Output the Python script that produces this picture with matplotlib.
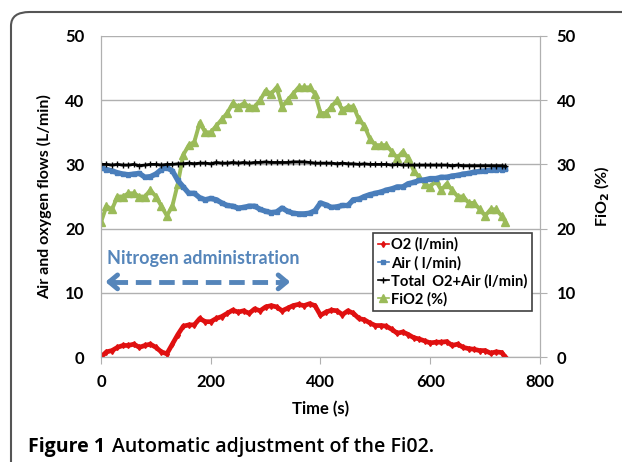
import matplotlib.pyplot as plt
import numpy as np
from matplotlib.patches import FancyBboxPatch

# time axis (s), one reading every 10 s, last point at 737 s
t = [0, 10, 20, 30, 40, 50, 60, 70, 80, 90, 100, 110, 120, 130, 140, 150, 160, 170, 180, 190,
     200, 210, 220, 230, 240, 250, 260, 270, 280, 290, 300, 310, 320, 330, 340, 350, 360, 370, 380, 390,
     400, 410, 420, 430, 440, 450, 460, 470, 480, 490, 500, 510, 520, 530, 540, 550, 560, 570, 580, 590,
     600, 610, 620, 630, 640, 650, 660, 670, 680, 690, 700, 710, 720, 730, 737]

o2 = [0.0, 0.8, 1.0, 1.5, 1.8, 1.8, 2.0, 1.5, 1.8, 2.0, 1.5, 0.8, 0.5, 2.0, 3.5, 4.8, 5.0, 5.0, 6.0, 5.5,
      5.5, 6.0, 6.3, 6.8, 7.3, 7.0, 7.2, 6.8, 7.5, 7.2, 7.8, 8.0, 7.8, 7.2, 7.6, 8.0, 8.2, 8.0, 8.3, 8.0,
      6.5, 7.0, 7.3, 7.2, 6.6, 7.2, 6.8, 6.0, 5.8, 5.3, 4.9, 4.9, 4.8, 4.3, 3.7, 3.9, 3.5, 3.0, 2.8, 2.5,
      2.2, 2.3, 2.3, 2.4, 1.8, 2.0, 1.5, 1.3, 1.2, 1.0, 1.0, 0.6, 0.8, 0.7, 0.0]

air = [29.5, 29.2, 29.0, 28.7, 28.5, 28.4, 28.5, 28.6, 28.0, 28.1, 28.5, 29.2, 29.5, 29.0, 27.5, 26.5, 25.5, 25.5, 24.8, 24.5,
       24.7, 24.5, 24.0, 23.6, 23.5, 23.2, 23.3, 23.5, 23.5, 23.0, 22.7, 22.5, 22.6, 23.2, 22.7, 22.4, 22.3, 22.3, 22.4, 22.8,
       24.0, 23.7, 23.3, 23.4, 23.6, 23.6, 24.5, 24.6, 25.0, 25.3, 25.5, 25.7, 26.0, 26.2, 26.5, 26.5, 27.0, 27.2, 27.5, 27.6,
       27.8, 27.8, 28.0, 28.0, 28.2, 28.3, 28.5, 28.6, 28.8, 28.9, 29.0, 29.1, 29.2, 29.2, 29.3]

total = [30.0, 30.0, 29.9, 30.0, 29.9, 29.9, 30.0, 29.8, 29.9, 30.0, 30.0, 29.9, 30.0, 30.0, 30.1, 30.1, 30.2, 30.1, 30.2, 30.2,
         30.1, 30.3, 30.2, 30.2, 30.3, 30.2, 30.3, 30.2, 30.3, 30.3, 30.4, 30.3, 30.3, 30.3, 30.3, 30.4, 30.4, 30.4, 30.3, 30.2,
         30.2, 30.2, 30.2, 30.1, 30.2, 30.1, 30.1, 30.0, 30.1, 30.0, 30.0, 30.0, 30.0, 29.9, 30.0, 29.9, 29.9, 29.9, 29.9, 29.9,
         29.9, 29.9, 29.9, 29.9, 29.8, 29.9, 29.8, 29.8, 29.8, 29.8, 29.8, 29.8, 29.8, 29.8, 29.7]

fio2 = [21, 23.5, 23, 25, 25, 25.5, 25.5, 25, 25, 26, 25, 23.5, 22, 23.5, 27, 31.5, 33, 33.5, 36.5, 35,
        35, 36, 37, 38, 39.5, 39, 39.5, 39, 39, 40, 41.5, 41, 42, 39, 40, 41, 42, 42, 42, 41,
        38, 38, 39, 40, 38.5, 39, 39, 37, 36, 34, 33, 33, 33, 32, 31, 32, 31, 29, 28, 27,
        26.5, 27.5, 26, 27, 26, 25, 25, 24, 24, 23, 22, 23, 23, 22, 21]

yticks = [0, 10, 20, 30, 40, 50]
xticks = [0, 200, 400, 600, 800]

plt.rcParams['font.family'] = ['Lato', 'DejaVu Sans']

fig = plt.figure(figsize=(6.22, 4.62), dpi=100)
ax = fig.add_axes([101/622, 1-357/462, 439/622, 321/462])
ax2 = ax.twinx()

red = '#e01010'
blue = '#4a7ebb'
green = '#9bbb59'
arrow_blue = '#5585ba'

ax.plot(t, o2, color=red, lw=3.4, marker='d', ms=3, label='O2 (l/min)', zorder=4)
ax.plot(t, air, color=blue, lw=3.8, marker='s', ms=3.5, label='Air ( l/min)', zorder=3)
ax.plot(t, total, color='black', lw=2.0, marker='+', ms=4, label='Total  O2+Air (l/min)', zorder=5)
ax.plot(t, fio2, color=green, lw=2.8, marker='^', ms=5.5, label='FiO2 (%)', zorder=2)

ax.set_xlim(0, 800)
ax.set_ylim(0, 50)
ax2.set_ylim(0, 50)
ax.set_xticks(xticks)
ax.set_yticks(yticks)
ax2.set_yticks(yticks)
ax.grid(axis='y', color='#b0b0b0', lw=1)
ax.set_axisbelow(True)

for a in (ax, ax2):
    a.spines['top'].set_visible(False)
    for s in ('left', 'right', 'bottom'):
        a.spines[s].set_color('#b0b0b0')
ax.tick_params(axis='y', length=0, pad=12, labelsize=12)
ax.tick_params(axis='x', length=5, color='#b0b0b0', pad=7, labelsize=12)
ax2.tick_params(axis='y', length=5, color='#b0b0b0', pad=7, labelsize=12)
for lab in ax.get_xticklabels() + ax.get_yticklabels() + ax2.get_yticklabels():
    lab.set_fontweight('bold')

ax.set_xlabel('Time (s)', fontsize=12, fontweight='bold', labelpad=8)
ax.set_ylabel('Air and oxygen flows (L/min)', fontsize=11.5, fontweight='bold', labelpad=9)
ax2.set_ylabel('FiO$_\\mathbf{2}$ (%)', fontsize=11.5, fontweight='bold', labelpad=12)

leg = ax.legend(loc='upper left', bbox_to_anchor=(0.62, 0.386), fancybox=False,
                edgecolor='#404040', framealpha=1, handlelength=0.8, handletextpad=0.1,
                borderpad=0.3, labelspacing=0.25, borderaxespad=0,
                prop={'weight': 'bold', 'size': 10.6})
leg.get_frame().set_linewidth(1.2)
for h in leg.legend_handles:
    h.set_linewidth(1.2)
leg.set_zorder(10)

ax.text(11, 15.4, 'Nitrogen administration', color=arrow_blue, fontsize=13,
        fontweight='bold', va='center', ha='left')
ax.plot([20, 332], [11.7, 11.7], color=arrow_blue, lw=3.5, ls=(0, (3.2, 1.6)), solid_capstyle='butt')
ax.annotate('', xy=(3, 11.7), xytext=(28, 11.7),
            arrowprops=dict(arrowstyle='->, head_width=0.5, head_length=0.6', lw=3.5, color=arrow_blue))
ax.annotate('', xy=(350, 11.7), xytext=(325, 11.7),
            arrowprops=dict(arrowstyle='->, head_width=0.5, head_length=0.6', lw=3.5, color=arrow_blue))

frame = FancyBboxPatch((11/622, -0.1), 1.1, 1-12/462 + 0.1, boxstyle='round,pad=0,rounding_size=0.03',
                       transform=fig.transFigure, fill=False, edgecolor='#555555', lw=1.5)
fig.patches.append(frame)

fig.text(28/622, 1-447/462, 'Figure 1', fontsize=14, fontweight='bold', va='center',
         family=['Open Sans', 'DejaVu Sans'])
fig.text(112/622, 1-447/462, 'Automatic adjustment of the Fi02.', fontsize=14, fontweight='semibold',
         va='center', family=['Open Sans', 'DejaVu Sans'])

fig.savefig('out.png', dpi=100)
